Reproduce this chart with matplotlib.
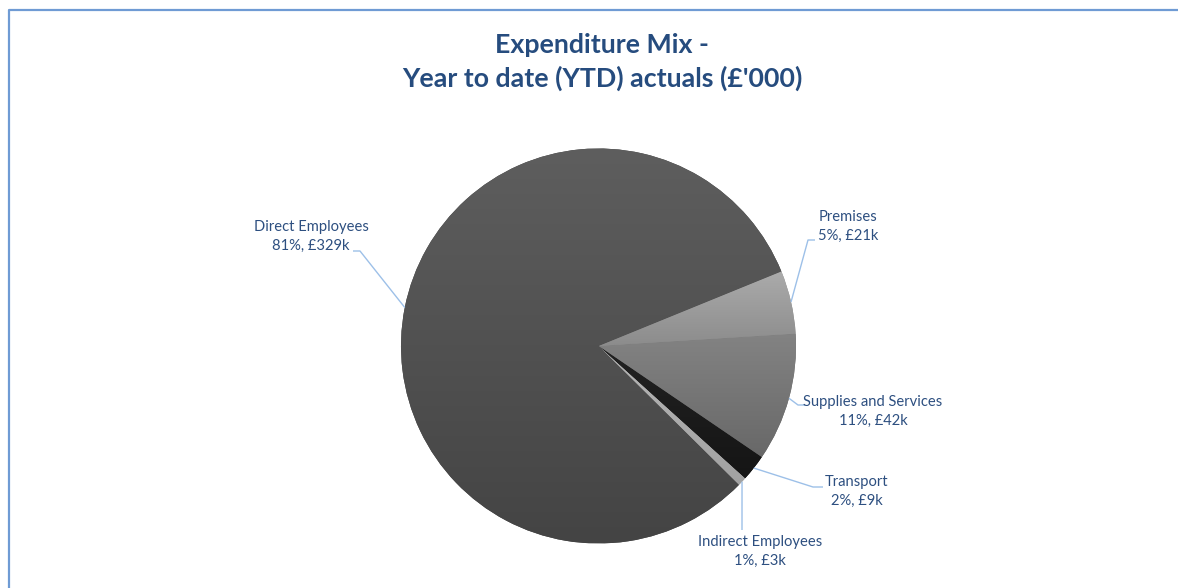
import numpy as np
import matplotlib
matplotlib.use("Agg")
import matplotlib.pyplot as plt
from matplotlib.colors import to_rgb

# ---- data (£'000), listed clockwise from the Premises slice ----
categories = ["Premises", "Supplies and Services", "Transport",
              "Indirect Employees", "Direct Employees"]
values = [20.9, 42.4, 8.8, 2.9, 328.7]
title_lines = ["Expenditure Mix -", "Year to date (YTD) actuals (£'000)"]

# ---- styling ----
grad_top = ["#ababab", "#838383", "#222222", "#b6b6b6", "#5e5e5e"]
grad_bot = ["#8c8c8c", "#686868", "#151515", "#a2a2a2", "#444444"]
title_color = "#264c7e"
label_color = "#2d4f80"
leader_color = "#9dc0e8"
border_color = "#6f9bd4"

plt.rcParams["font.family"] = ["Lato", "DejaVu Sans"]

W, H = 1178, 588
fig = plt.figure(figsize=(W / 100, H / 100), dpi=100)
ax = fig.add_axes([0, 0, 1, 1])
ax.set_xlim(0, W)
ax.set_ylim(0, H)
ax.set_aspect("equal")
ax.axis("off")

cx, cy, R = 598.5, H - 346, 197.5
total = sum(values)
wedges, _ = ax.pie(values, center=(cx, cy), radius=R, startangle=22.2,
                   counterclock=False, frame=True,
                   wedgeprops=dict(linewidth=0, edgecolor="none"))
ax.set_xlim(0, W)
ax.set_ylim(0, H)
ax.axis("off")

# vertical gradient fill per slice
for w, ct, cb in zip(wedges, grad_top, grad_bot):
    ext = w.get_path().get_extents()
    n = 256
    t = np.linspace(0, 1, n)[:, None]
    top = np.array(to_rgb(ct)); bot = np.array(to_rgb(cb))
    img = top[None, None, :] * (1 - t[:, :, None]) + bot[None, None, :] * t[:, :, None]
    img = np.repeat(img, 2, axis=1)
    w.set_facecolor(cb)
    im = ax.imshow(img, extent=(ext.x0, ext.x1, ext.y0, ext.y1), origin="upper",
                   aspect="auto", interpolation="bilinear", zorder=2)
    im.set_clip_path(w)

ax.set_xlim(0, W)
ax.set_ylim(0, H)

# labels: text anchor (pixel, y from top) and leader polyline end points
label_pos = {
    "Direct Employees": (311, 236),
    "Premises": (848, 226),
    "Supplies and Services": (873, 411),
    "Transport": (857, 491),
    "Indirect Employees": (760, 551),
}
leaders = {
    "Direct Employees": [(353, 251), (360, 251)],
    "Premises": [(815, 240), (808, 240)],
    "Supplies and Services": [(805, 405), (798, 405)],
    "Transport": [(823, 487), (813, 487)],
    "Indirect Employees": [(742, 530)],
}

for w, name, v in zip(wedges, categories, values):
    pct = int(v / total * 100 + 0.5)
    txt = f"{name}\n{pct}%, £{round(v)}k"
    x, y = label_pos[name]
    ax.text(x, H - y, txt, ha="center", va="center", fontsize=10.6,
            color=label_color, linespacing=1.45, zorder=5)
    mid = np.deg2rad((w.theta1 + w.theta2) / 2)
    ex, ey = cx + R * np.cos(mid), cy + R * np.sin(mid)
    pts = [(px, H - py) for px, py in leaders[name]]
    xs = [p[0] for p in pts] + [ex]
    ys = [p[1] for p in pts] + [ey]
    ax.plot(xs, ys, color=leader_color, lw=1.0, zorder=4, solid_capstyle="butt")

ax.text(602, H - 45, title_lines[0], ha="center", va="center",
        fontsize=19.3, fontweight="bold", color=title_color)
ax.text(602, H - 78, title_lines[1], ha="center", va="center",
        fontsize=19.3, fontweight="bold", color=title_color)

# chart-area border (runs off the right and bottom edges)
ax.plot([8.5, 8.5, W + 5], [-5, H - 9.5, H - 9.5], color=border_color, lw=1.6,
        zorder=6, clip_on=False)

fig.savefig("out.png", dpi=100, facecolor="white")
